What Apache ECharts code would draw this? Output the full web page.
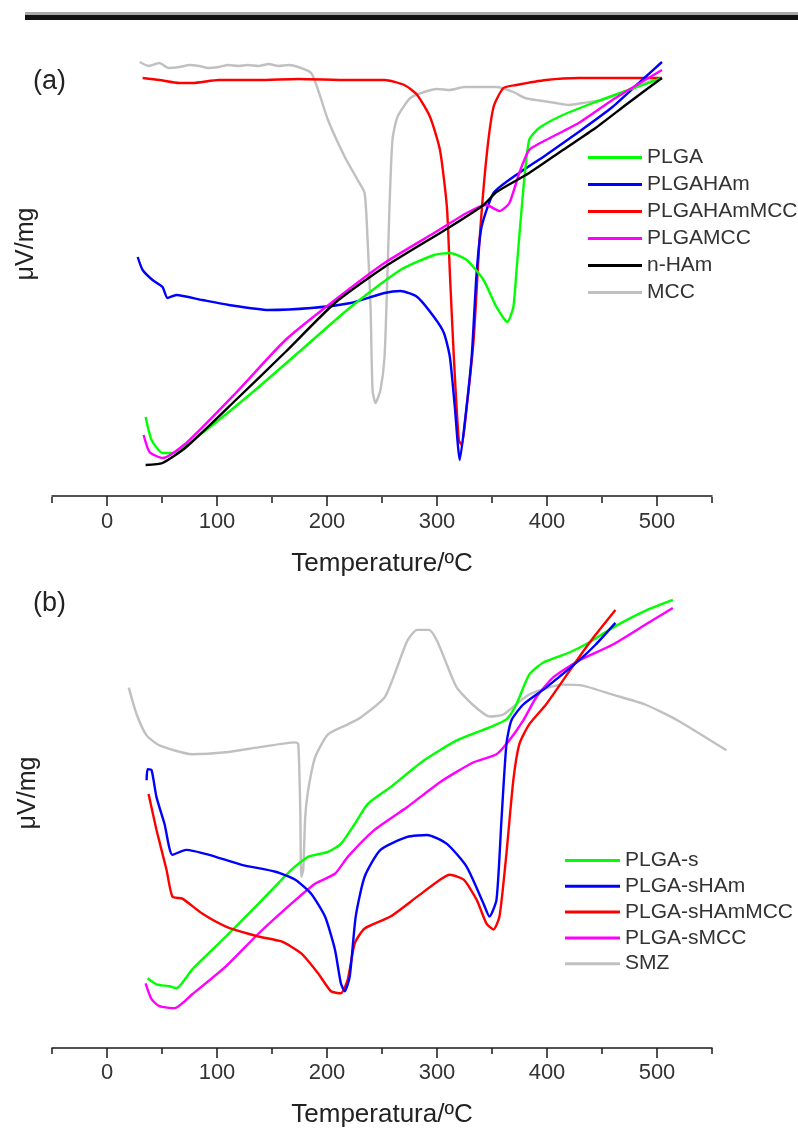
<!DOCTYPE html>
<html>
<head>
<meta charset="utf-8">
<script src="https://cdn.jsdelivr.net/npm/echarts@6/dist/echarts.min.js"></script>
<style>
html,body{margin:0;padding:0;background:#fff;overflow:hidden;}
#c{width:798px;height:1129px;}
</style>
</head>
<body>
<div id="c"></div>
<script>
// ---- Panel (a) data: [Temperature °C, signal (arb. μV/mg units)] ----
const namesA = ['PLGA','PLGAHAm','PLGAHAmMCC','PLGAMCC','n-HAm','MCC'];
const namesB = ['PLGA-s','PLGA-sHAm','PLGA-sHAmMCC','PLGA-sMCC','SMZ'];

const PLGA = [[35.1,7.9],[40.5,5.6],[50.5,4.3],[59.5,4.3],[86.5,6.3],[131.5,10.3],[176.6,14.6],[221.6,18.9],[266.7,22.6],[297.3,24.1],[311.7,24.3],[327,23.6],[342.3,21.6],[354.1,18.9],[364,17.4],[369.4,18.9],[372.1,22.3],[378.4,30.6],[383.8,35.6],[392.8,36.8],[414.4,38.1],[444.1,39.4],[473.9,40.6],[504.5,41.8]];
const PLGAHAm = [[27.9,23.9],[32.4,22.6],[41.4,21.6],[50.5,20.9],[55,19.8],[63.1,20.1],[86.5,19.6],[110.8,19.1],[146.8,18.6],[185.6,18.8],[221.6,19.3],[252.3,20.3],[266.7,20.5],[282,19.9],[297.3,17.9],[306.3,16.3],[311.7,13.9],[316.2,8.9],[320.7,3.6],[325.2,7.3],[331.5,13.9],[336,22.3],[340.5,26.9],[351.4,30.3],[369.4,31.9],[399.1,34.1],[428.8,36.4],[459.5,38.9],[486.5,41.6],[504.5,43.4]];
const PLGAHAmMCC = [[32.4,41.8],[47.7,41.6],[65.8,41.3],[77.5,41.3],[101.8,41.6],[137.8,41.6],[173.9,41.7],[218.9,41.6],[252.3,41.6],[270.3,41.1],[282,40.1],[293.7,37.9],[302.7,34.6],[309,28.9],[311.7,22.3],[315.3,13.9],[319.8,5.6],[322.5,5.1],[327,8.9],[333.3,15.6],[338.7,25.6],[345,33.9],[351.4,38.9],[360.4,40.8],[372.1,41.1],[399.1,41.6],[428.8,41.8],[504.5,41.8]];
const PLGAMCC = [[33.3,6.1],[38.7,4.4],[50.5,3.8],[72.1,5.3],[117.1,10.3],[162.2,15.6],[207.2,19.6],[252.3,23.3],[297.3,26.3],[327,28.3],[345,29.1],[356.8,28.5],[365.8,29.3],[374.8,32.3],[383.8,34.6],[399.1,35.6],[428.8,37.3],[459.5,39.6],[489.2,41.6],[504.5,42.6]];
const nHAm = [[35.1,3.1],[50.5,3.3],[72.1,4.9],[117.1,9.6],[162.2,14.4],[207.2,19.3],[252.3,22.9],[311.7,26.9],[342.3,29.1],[354.1,30.4],[383.8,32.3],[414.4,34.6],[444.1,36.8],[473.9,39.3],[504.5,41.8]];
const MCC = [[29.7,43.4],[38,43.0],[47.7,43.3],[56,42.8],[65.8,42.9],[75,43.1],[83.8,43.0],[92,42.8],[101.8,42.9],[110,43.1],[119.8,43.0],[128,43.1],[137.8,43.0],[147,43.2],[155.9,43.0],[165,43.1],[173.9,42.9],[185.6,42.3],[191.9,40.6],[200.9,37.6],[216.2,33.9],[227.9,31.6],[234.2,30.3],[236.9,25.6],[239.6,18.9],[241.4,10.6],[244.1,9.3],[248.6,10.6],[252.3,13.9],[255,22.3],[256.8,28.9],[259.5,35.6],[264,37.9],[275.7,39.8],[288.3,40.4],[300,40.7],[311.7,40.6],[325,40.9],[342.3,40.9],[354.1,40.9],[369.4,40.4],[380,39.8],[390.1,39.6],[408.1,39.3],[420,39.1],[432.4,39.3],[450.5,39.6],[473.9,40.6],[500.9,41.8]];

// ---- Panel (b) data ----
const PLGAs = [[36.9,6.8],[45,6.2],[56.8,6],[63.1,5.8],[77.5,7.7],[108.1,11],[137.8,14.3],[167.6,17.7],[182.9,19],[200.9,19.5],[212.6,20.3],[225.2,22.3],[236.9,24.3],[257.7,26],[288.3,28.7],[318,30.7],[347.7,32],[363.1,32.8],[372.1,34.3],[383.8,37.3],[396.4,38.5],[419.8,39.5],[437.8,40.5],[459.5,42],[489.2,43.7],[514.4,44.8]];
const PLGAsHAm = [[36,26.7],[36.9,27.8],[40.5,27.7],[45,25],[52.3,22.3],[59.5,19.2],[72.1,19.7],[92.8,19.2],[122.5,18.2],[153.2,17.5],[171.2,16.7],[185.6,15.3],[198.2,13],[207.2,9.7],[212.6,6.3],[216.2,5.5],[220.7,7],[226.1,13],[234.2,17],[248.6,19.7],[273,21],[291,21.2],[309,20.3],[327,18],[342.3,14.3],[347.7,13],[354.1,14.7],[358.6,22.7],[363.1,30.3],[367.6,32.7],[378.4,34.3],[399.1,36],[428.8,38.7],[444.1,40.3],[462.2,42.5]];
const PLGAsHAmMCC = [[37.8,25.3],[45,21.7],[54.1,17.7],[59.5,15],[68.5,14.8],[86.5,13.3],[108.1,12],[137.8,11],[158.6,10.5],[176.6,9.3],[191.9,7.3],[203.6,5.5],[212.6,5.3],[218.9,6.7],[225.2,10.3],[234.2,11.8],[257.7,13],[282,15],[302.7,16.7],[311.7,17.2],[324.3,16.7],[336,14.7],[345,12.3],[351.4,11.7],[356.8,13],[363.1,19.3],[369.4,26.7],[374.8,30.3],[383.8,32.3],[399.1,34.3],[414.4,36.7],[428.8,39],[444.1,41.3],[462.2,43.8]];
const PLGAsMCC = [[35.1,6.3],[40.5,4.7],[47.7,4],[61.3,3.8],[77.5,5.2],[108.1,8],[137.8,11.3],[167.6,14.3],[189.2,16.3],[207.2,17.3],[218.9,19],[243.2,21.7],[273,24],[302.7,26.5],[333.3,28.5],[354.1,29.3],[365.8,30.7],[378.4,32.7],[390.1,35],[405.4,37],[428.8,38.7],[459.5,40.3],[489.2,42.3],[514.4,44]];
const SMZ = [[19.8,36],[27,33.3],[36,31.2],[47.7,30.2],[77.5,29.3],[108.1,29.5],[137.8,30],[171.2,30.5],[173.9,30.3],[175.7,23.7],[176.6,17],[178.4,17.7],[180.2,23],[182.9,25.7],[189.2,29],[200.9,31.3],[218.9,32.3],[230.6,33],[252.3,35],[261.3,37.3],[273,40.7],[282,41.8],[292.8,41.8],[300,40.7],[309,38.3],[318,36],[333.3,34.2],[347.7,33.1],[360.4,33.3],[383.8,35.3],[414.4,36.3],[432.4,36.2],[459.5,35.3],[489.2,34.3],[518.9,32.7],[563.1,29.7]];

const xMajor = [0,100,200,300,400,500];
const xMinor = [-50,50,150,250,350,450,550];

const colors = {green:'#00ff00', blue:'#0000ff', red:'#ff0000', magenta:'#ff00ff', black:'#000000', grey:'#c0c0c0'};
const FONT = '"Liberation Sans", Arial, sans-serif';

function mkX(grid, name, main){
  const ax = {
    type:'value', gridIndex:grid, min:-50, max:550, position:'bottom',
    splitLine:{show:false},
    axisLine:{show:main, lineStyle:{color:'#1a1a1a', width:1.5}},
    axisTick:{show:true, inside:false, length: main?10:6, customValues: main?xMajor:xMinor, lineStyle:{color:'#1a1a1a', width:1.5}},
    axisLabel:{show:main, customValues:xMajor, color:'#333', fontSize:22, fontFamily:FONT, margin:14},
  };
  if(main){
    ax.name = name; ax.nameLocation='middle'; ax.nameGap=54;
    ax.nameTextStyle = {color:'#222', fontSize:26, fontFamily:FONT};
  }
  return ax;
}
function ser(name, data, color, xi, yi){
  return {name:name, type:'line', data:data, xAxisIndex:xi, yAxisIndex:yi,
    showSymbol:false, smooth:0.2, clip:false,
    lineStyle:{color:color, width:2.4}, itemStyle:{color:color}, z: 3};
}

const option = {
  animation:false,
  backgroundColor:'#fff',
  grid:[
    {left:52, right:86, top:46, bottom:632, outerBoundsMode:'none', containLabel:false},
    {left:52, right:86, top:590, bottom:81, outerBoundsMode:'none', containLabel:false},
    {left:52, right:53, top:590, bottom:81, outerBoundsMode:'none', containLabel:false}
  ],
  xAxis:[
    mkX(0,'Temperature/ºC',true), mkX(0,'',false),
    mkX(1,'Temperatura/ºC',true), mkX(1,'',false),
    {type:'value', gridIndex:2, min:-50, max:580, show:false}
  ],
  yAxis:[
    {type:'value', gridIndex:0, min:-0.1, max:45, show:false},
    {type:'value', gridIndex:1, min:0, max:1, show:false},
    {type:'value', gridIndex:2, min:-0.2, max:45.8, show:false}
  ],
  legend:[
    {data:namesA, orient:'vertical', left:583, top:142, icon:'rect', itemWidth:54, itemHeight:3, itemGap:6,
     textStyle:{color:'#333', fontSize:21, fontFamily:FONT, lineHeight:21}},
    {data:namesB, orient:'vertical', left:560, top:845, icon:'rect', itemWidth:55, itemHeight:3, itemGap:4.8,
     textStyle:{color:'#333', fontSize:21, fontFamily:FONT, lineHeight:21}}
  ],
  series:[
    ser('MCC', MCC, colors.grey, 0, 0),
    ser('PLGAHAmMCC', PLGAHAmMCC, colors.red, 0, 0),
    ser('PLGAHAm', PLGAHAm, colors.blue, 0, 0),
    ser('PLGA', PLGA, colors.green, 0, 0),
    ser('PLGAMCC', PLGAMCC, colors.magenta, 0, 0),
    ser('n-HAm', nHAm, colors.black, 0, 0),
    ser('SMZ', SMZ, colors.grey, 4, 2),
    ser('PLGA-s', PLGAs, colors.green, 4, 2),
    ser('PLGA-sMCC', PLGAsMCC, colors.magenta, 4, 2),
    ser('PLGA-sHAmMCC', PLGAsHAmMCC, colors.red, 4, 2),
    ser('PLGA-sHAm', PLGAsHAm, colors.blue, 4, 2)
  ],
  graphic:[
    {type:'rect', left:25, top:12, shape:{width:773, height:3}, style:{fill:'#a8a8a8'}},
    {type:'rect', left:25, top:15, shape:{width:773, height:5}, style:{fill:'#111'}},
    {type:'text', left:33, top:68, style:{text:'(a)', fill:'#222', font:'27px '+FONT}},
    {type:'text', left:33, top:590, style:{text:'(b)', fill:'#222', font:'27px '+FONT}},
    {type:'text', x:26, y:244, rotation:Math.PI/2, style:{text:'μV/mg', fill:'#222', font:'25px '+FONT, align:'center', verticalAlign:'middle'}},
    {type:'text', x:28, y:793, rotation:Math.PI/2, style:{text:'μV/mg', fill:'#222', font:'25px '+FONT, align:'center', verticalAlign:'middle'}}
  ]
};
const chart = echarts.init(document.getElementById('c'), null, {renderer:'canvas'});
chart.setOption(option);
</script>
</body>
</html>
